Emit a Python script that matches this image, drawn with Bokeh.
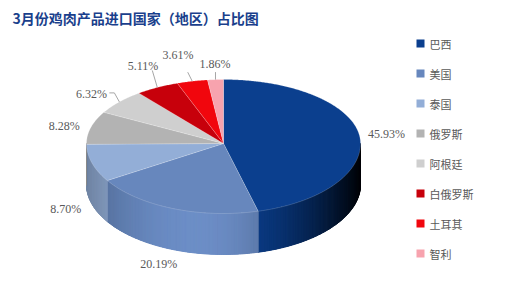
import math
import numpy as np
from bokeh.plotting import figure
from bokeh.models import Range1d
from bokeh.core.properties import value
from bokeh.embed import file_html
from bokeh.resources import INLINE

# ---------------- data ----------------
title_text = "3月份鸡肉产品进口国家（地区）占比图"
countries = ["巴西", "美国", "泰国", "俄罗斯", "阿根廷", "白俄罗斯", "土耳其", "智利"]
shares = [45.93, 20.19, 8.70, 8.28, 6.32, 5.11, 3.61, 1.86]
colors = ["#0B3F8E", "#6787BD", "#93AED7", "#B3B3B3", "#CFCFCF", "#C7000B", "#F1060D", "#F7A3AE"]

# ---------------- style / layout ----------------
W, H = 522, 296
cx, cy, rx, ry_top, ry_bot, depth = 223.0, 143.0, 137.0, 64.0, 70.0, 41.0
label_k = 1.2
label_dx = [0, -4, 0, 0, -7, -1, -8, 1]
label_dy = [0, 1, 1, 1, 0, -10, -14, -3]
leader = [None, None, None, None,
          [(-10, -9), (-5, -9), (0, 0)],
          [(-5, -17), (0, 0)],
          [(-4.5, -9), (0, 0)],
          [(0, -7.5), (0, 0)]]

p = figure(width=W, height=H, x_range=Range1d(0, W), y_range=Range1d(H, 0),
           output_backend="svg", toolbar_location=None, min_border=0,
           x_axis_type=None, y_axis_type=None)
p.grid.visible = False
p.outline_line_color = None
p.background_fill_color = "white"


def pt(phi_deg, k=1.0, dz=0.0):
    a = math.radians(phi_deg)
    c = math.cos(a)
    ry = ry_top if c > 0 else ry_bot
    return cx + rx * k * math.sin(a), cy - ry * k * c + dz


def hex2rgb(h):
    h = h.lstrip("#")
    return [int(h[i:i + 2], 16) for i in (0, 2, 4)]


def shade(h, f):
    r, g, b = hex2rgb(h)
    return "#%02x%02x%02x" % tuple(max(0, min(255, int(round(c * f)))) for c in (r, g, b))


def side_factor(u):
    t = u + 0.2
    f = 1.05 - (0.7 if t > 0 else 0.45) * t * t
    return max(0.03, f)


total = sum(shares)
angles = [s / total * 360.0 for s in shares]
starts = list(np.cumsum([0.0] + angles[:-1]))
ends = [s + a for s, a in zip(starts, angles)]

# ---------------- side (3D wall) ----------------
bx, by, bc = [], [], []
sx, sy, sc = [], [], []
for i in range(len(shares)):
    a, b = max(starts[i], 90.0), min(ends[i], 270.0)
    if a >= b:
        continue
    n = max(1, int(math.ceil((b - a) / 0.8)))
    top_pts = [pt(a + (b - a) * j / n) for j in range(n + 1)]
    bx.append([q[0] for q in top_pts] + [q[0] for q in reversed(top_pts)])
    by.append([q[1] for q in top_pts] + [q[1] + depth for q in reversed(top_pts)])
    um = math.sin(math.radians((a + b) / 2))
    bc.append(shade(colors[i], side_factor(um)))
    for j in range(n):
        p0 = a + (b - a) * j / n
        p1 = a + (b - a) * (j + 1) / n
        x0, y0 = top_pts[j]
        x1, y1 = top_pts[j + 1]
        sx.append([x0, x1, x1, x0])
        sy.append([y0, y1, y1 + depth, y0 + depth])
        u = math.sin(math.radians((p0 + p1) / 2))
        sc.append(shade(colors[i], side_factor(u)))
p.patches(bx, by, fill_color=bc, line_color=None)
p.patches(sx, sy, fill_color=sc, line_color=sc, line_width=1.0)

# ---------------- top faces ----------------
tx, ty = [], []
for i in range(len(shares)):
    n = max(2, int(math.ceil(angles[i] / 0.5)))
    xs, ys = [cx], [cy]
    for j in range(n + 1):
        x, y = pt(starts[i] + angles[i] * j / n)
        xs.append(x)
        ys.append(y)
    tx.append(xs)
    ty.append(ys)
p.patches(tx, ty, fill_color=colors, line_color="white", line_alpha=0.35, line_width=0.5)

# ---------------- labels ----------------
lx, ly, lt = [], [], []
for i in range(len(shares)):
    mid = starts[i] + angles[i] / 2
    x, y = pt(mid, label_k)
    if math.cos(math.radians(mid)) < 0:
        y += depth
    lx.append(x + label_dx[i])
    ly.append(y + label_dy[i])
    lt.append("%.2f%%" % shares[i])
    if leader[i]:
        ex, ey = pt(mid, 1.0)
        p.line([ex + d[0] for d in leader[i]], [ey + d[1] for d in leader[i]],
               line_color="#A6A6A6", line_width=1)
p.text(lx, ly, text=lt, text_font=value("Liberation Serif"), text_font_size="12px",
       text_color="#595959", text_align="center", text_baseline="middle")

# ---------------- legend ----------------
leg_y = [43 + 30 * i for i in range(len(countries))]
p.rect([420] * len(countries), leg_y, width=8, height=8, fill_color=colors, line_color=None)
p.text([429] * len(countries), leg_y, text=countries, text_font=value("Noto Sans CJK SC"),
       text_font_size="11px", text_color="#595959", text_align="left", text_baseline="middle")

# ---------------- title ----------------
p.text([12], [17], text=[title_text], text_font=value("Noto Sans CJK SC"), text_font_size="14px",
       text_font_style="bold", text_color="#1A3F8C", text_align="left", text_baseline="middle")

open("out.html", "w").write(file_html(p, INLINE))
